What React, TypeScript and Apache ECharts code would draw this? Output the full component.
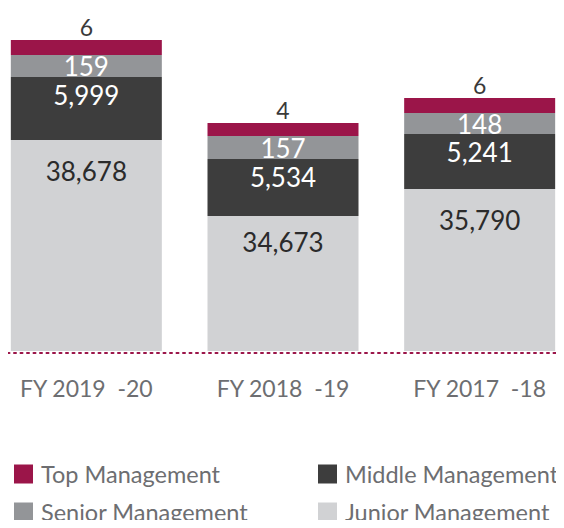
import React, { useEffect, useRef } from "react";
import * as echarts from "echarts";

// Categories (fiscal years)
const categories = ["FY 2019  -20", "FY 2018  -19", "FY 2017  -18"];

// Real headcount values (shown as labels)
const topValues = [6, 4, 6];
const seniorValues = [159, 157, 148];
const middleValues = [5999, 5534, 5241];
const juniorValues = [38678, 34673, 35790];

// Drawn segment sizes as read from the (not-to-scale) infographic
const topShown = [15, 13, 15];
const seniorShown = [22, 23, 21];
const middleShown = [63, 57, 55];
const juniorShown = [211, 135, 162];

// Distance of the junior label below its segment top, per bar
const juniorLabelGap = [18, 13, 18];

const seriesNames = ["Top Management", "Senior Management", "Middle Management", "Junior Management"];

const COLORS = {
  top: "#9b1549",
  senior: "#939598",
  middle: "#3d3d3d",
  junior: "#d1d2d4",
};

const FONT = "Lato, 'Noto Sans', sans-serif";
const fmt = (n: number) => n.toLocaleString("en-US");

const legendAt = (name: string, left: number, top: number) => ({
  orient: "horizontal",
  left,
  top,
  icon: "rect",
  itemWidth: 19,
  itemHeight: 19,
  data: [name],
  textStyle: { color: "#6d6e71", fontSize: 23.5, fontFamily: FONT, padding: [0, 0, 0, 3] },
  selectedMode: false,
  padding: 0,
});

export default function App() {
  const ref = useRef<HTMLDivElement>(null);

  useEffect(() => {
    if (!ref.current) return;
    const chart = echarts.init(ref.current, undefined, { renderer: "svg" });

    const mk = (shown: number[], real: number[]) =>
      shown.map((v, i) => ({ value: v, real: real[i] }));

    const labelFmt = (p: any) => fmt(p.data.real);

    chart.setOption({
      animation: false,
      textStyle: { fontFamily: FONT },
      grid: { left: 0, right: 0, top: 0, bottom: 177, containLabel: false },
      xAxis: {
        type: "category",
        data: categories,
        axisLine: {
          show: true,
          onZero: false,
          lineStyle: { color: "#9b1549", width: 2, type: [2, 4.5] },
        },
        offset: 2,
        axisTick: { show: false },
        axisLabel: {
          color: "#6d6e71",
          fontSize: 23,
          fontFamily: FONT,
          margin: 23,
        },
      },
      yAxis: {
        type: "value",
        min: 0,
        max: 351,
        show: false,
        splitLine: { show: false },
      },
      legend: [
        legendAt(seriesNames[0], 26, 462),
        legendAt(seriesNames[1], 26, 500),
        legendAt(seriesNames[2], 330, 462),
        legendAt(seriesNames[3], 330, 500),
      ],
      series: [
        {
          name: seriesNames[3],
          type: "bar",
          stack: "total",
          barWidth: 151,
          itemStyle: { color: COLORS.junior },
          data: juniorShown.map((v, i) => ({
            value: v,
            real: juniorValues[i],
            label: { distance: juniorLabelGap[i] },
          })),
          label: {
            show: true,
            position: "insideTop",
            distance: 18,
            color: "#2b2b2b",
            fontSize: 26,
            fontFamily: FONT,
            formatter: labelFmt,
          },
        },
        {
          name: seriesNames[2],
          type: "bar",
          stack: "total",
          barWidth: 151,
          itemStyle: { color: COLORS.middle },
          data: mk(middleShown, middleValues),
          label: {
            show: true,
            position: "insideTop",
            distance: 5,
            color: "#ffffff",
            fontSize: 26,
            fontFamily: FONT,
            formatter: labelFmt,
          },
        },
        {
          name: seriesNames[1],
          type: "bar",
          stack: "total",
          barWidth: 151,
          itemStyle: { color: COLORS.senior },
          data: mk(seniorShown, seniorValues),
          label: {
            show: true,
            position: "inside",
            color: "#ffffff",
            fontSize: 26,
            fontFamily: FONT,
            formatter: labelFmt,
          },
        },
        {
          name: seriesNames[0],
          type: "bar",
          stack: "total",
          barWidth: 151,
          itemStyle: { color: COLORS.top },
          data: mk(topShown, topValues),
          label: {
            show: true,
            position: "top",
            distance: 2,
            color: "#3a3a3a",
            fontSize: 23,
            fontFamily: FONT,
            formatter: labelFmt,
          },
        },
      ],
    });

    return () => chart.dispose();
  }, []);

  return (
    <div style={{ width: 564, height: 528, margin: -8, overflow: "hidden", position: "relative" }}>
      <div ref={ref} style={{ width: 590, height: 528, position: "absolute", left: -12, top: 0 }} />
    </div>
  );
}
